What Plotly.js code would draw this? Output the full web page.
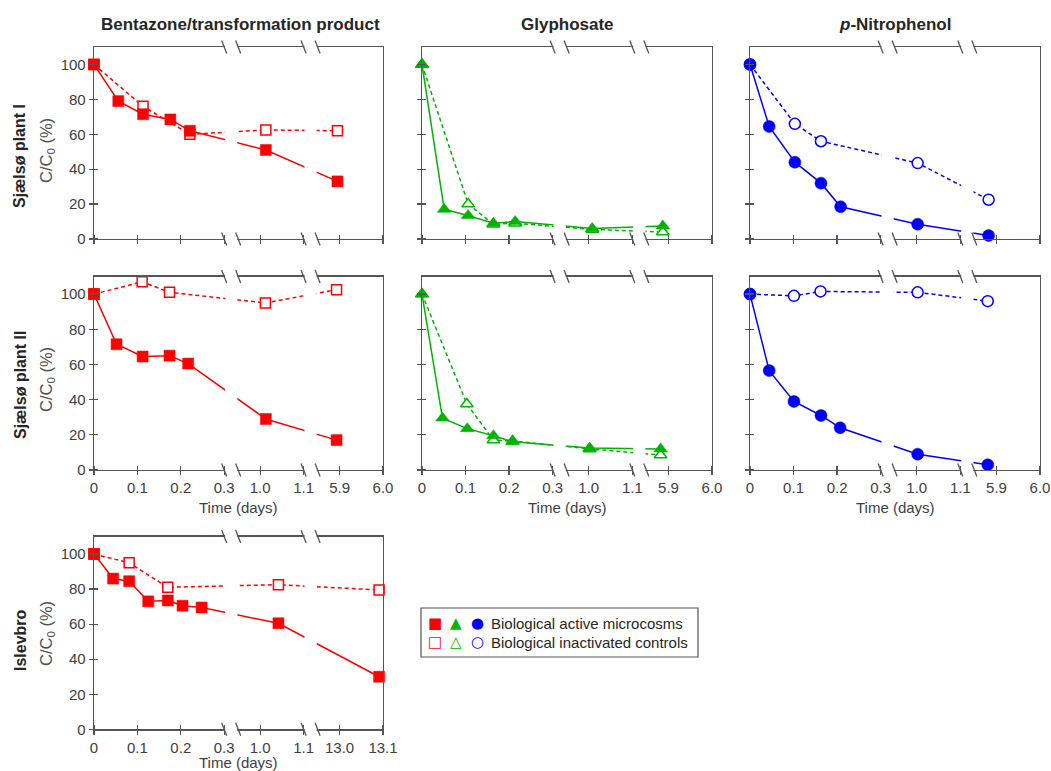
<!DOCTYPE html>
<html><head><meta charset="utf-8">
<script src="https://cdn.plot.ly/plotly-3.0.1.min.js"></script>
<style>html,body{margin:0;padding:0;background:#fff}#chart{width:1051px;height:771px}</style>
</head><body><div id="chart"></div>
<script>
// ---------------- data ----------------
const colTitles = ['Bentazone/transformation product', 'Glyphosate', '<i>p</i>-Nitrophenol'];
const rowLabels = ['Sjælsø plant I', 'Sjælsø plant II', 'Islevbro'];
const yTitle = 'C/C<sub>0</sub> (%)';
const xTitle = 'Time (days)';
const yTickVals = [0, 20, 40, 60, 80, 100];
const xTickTimes6 = [0, 0.1, 0.2, 0.3, 1.0, 1.1, 5.9, 6.0];
const xTickText6 = ['0', '0.1', '0.2', '0.3', '1.0', '1.1', '5.9', '6.0'];
const xTickTimes13 = [0, 0.1, 0.2, 0.3, 1.0, 1.1, 13.0, 13.1];
const xTickText13 = ['0', '0.1', '0.2', '0.3', '1.0', '1.1', '13.0', '13.1'];
const legendLabels = ['Biological active microcosms', 'Biological inactivated controls'];

// Bentazone, Sjælsø plant I
const bentaS1ActiveT = [0, 0.056, 0.113, 0.176, 0.221, 1.013, 5.895];
const bentaS1Active = [100, 79, 71.5, 68.5, 62, 51, 33];
const bentaS1ControlT = [0, 0.113, 0.221, 1.013, 5.895];
const bentaS1Control = [100, 76, 60, 62.5, 62];
// Glyphosate, Sjælsø plant I
const glyS1ActiveT = [0, 0.051, 0.106, 0.164, 0.214, 1.008, 5.887];
const glyS1Active = [100, 17, 13.5, 9, 10, 6, 7.5];
const glyS1ControlT = [0, 0.106, 0.164, 0.214, 1.008, 5.887];
const glyS1Control = [100, 20, 8.5, 9, 5.5, 4];
// p-Nitrophenol, Sjælsø plant I
const pnpS1ActiveT = [0, 0.044, 0.103, 0.163, 0.208, 1.002, 5.882];
const pnpS1Active = [100, 64.5, 44, 32, 18.5, 8.5, 2];
const pnpS1ControlT = [0, 0.103, 0.163, 1.002, 5.882];
const pnpS1Control = [100, 66, 56, 43.5, 22.5];
// Bentazone, Sjælsø plant II
const bentaS2ActiveT = [0, 0.052, 0.112, 0.174, 0.217, 1.013, 5.893];
const bentaS2Active = [100, 71.5, 64.5, 65, 60.5, 29, 17];
const bentaS2ControlT = [0, 0.111, 0.174, 1.012, 5.893];
const bentaS2Control = [100, 107, 101, 95, 102.5];
// Glyphosate, Sjælsø plant II
const glyS2ActiveT = [0, 0.047, 0.104, 0.164, 0.208, 1.002, 5.882];
const glyS2Active = [100, 29.5, 23.5, 19.5, 16, 12.5, 12];
const glyS2ControlT = [0, 0.103, 0.164, 0.208, 1.002, 5.882];
const glyS2Control = [100, 37.5, 17, 16.5, 12, 8.5];
// p-Nitrophenol, Sjælsø plant II
const pnpS2ActiveT = [0, 0.044, 0.101, 0.163, 0.207, 1.002, 5.88];
const pnpS2Active = [100, 56.5, 39, 31, 24, 9, 3];
const pnpS2ControlT = [0, 0.101, 0.162, 1.002, 5.88];
const pnpS2Control = [100, 99, 101.5, 101, 96];
// Bentazone, Islevbro
const bentaIsActiveT = [0, 0.044, 0.081, 0.125, 0.170, 0.204, 0.248, 1.042, 13.091];
const bentaIsActive = [100, 86, 84.5, 73, 73.5, 70.5, 69.5, 60.5, 30];
const bentaIsControlT = [0, 0.081, 0.170, 1.042, 13.091];
const bentaIsControl = [100, 95, 81, 82.5, 79.5];

// ---------------- styles / layout ----------------
const colColors = ['#ff0000', '#00b400', '#0000ff'];
const colSymbols = ['square', 'triangle-up', 'circle'];
const colSizes = [10, 11, 11];

const W = 1051, H = 771;
const COLS = [[94, 383], [422, 712], [750, 1040]];
const ROWS = [[47, 239], [276.5, 470], [536.5, 729.3]];
const GAP = 0.83;
const SEG2 = 3 + GAP;
const SEG3 = SEG2 + 1 + GAP;
const XEND = SEG3 + 1;

// broken-axis scale: 0–0.3 | 1.0–1.1 | last segment
function brokenX(t, lastStart) {
  if (t <= 0.65) return t / 0.1;
  if (t <= (1.1 + lastStart) / 2) return SEG2 + (t - 1.0) / 0.1;
  return SEG3 + (t - lastStart) / 0.1;
}

const panels = [
  {row: 0, col: 0, aT: bentaS1ActiveT, a: bentaS1Active, cT: bentaS1ControlT, c: bentaS1Control, ticks: xTickTimes6, text: xTickText6, last: 5.9},
  {row: 0, col: 1, aT: glyS1ActiveT, a: glyS1Active, cT: glyS1ControlT, c: glyS1Control, ticks: xTickTimes6, text: xTickText6, last: 5.9},
  {row: 0, col: 2, aT: pnpS1ActiveT, a: pnpS1Active, cT: pnpS1ControlT, c: pnpS1Control, ticks: xTickTimes6, text: xTickText6, last: 5.9},
  {row: 1, col: 0, aT: bentaS2ActiveT, a: bentaS2Active, cT: bentaS2ControlT, c: bentaS2Control, ticks: xTickTimes6, text: xTickText6, last: 5.9},
  {row: 1, col: 1, aT: glyS2ActiveT, a: glyS2Active, cT: glyS2ControlT, c: glyS2Control, ticks: xTickTimes6, text: xTickText6, last: 5.9},
  {row: 1, col: 2, aT: pnpS2ActiveT, a: pnpS2Active, cT: pnpS2ControlT, c: pnpS2Control, ticks: xTickTimes6, text: xTickText6, last: 5.9},
  {row: 2, col: 0, aT: bentaIsActiveT, a: bentaIsActive, cT: bentaIsControlT, c: bentaIsControl, ticks: xTickTimes13, text: xTickText13, last: 13.0}
];

const FONT = 'Liberation Sans, Arial, sans-serif';
const AXC = '#555555';
const data = [];
const layout = {
  width: W, height: H, margin: {l: 0, r: 0, t: 0, b: 0},
  paper_bgcolor: '#fff', plot_bgcolor: '#fff', showlegend: false,
  font: {family: FONT, size: 15, color: '#404040'},
  shapes: [], annotations: []
};
const px2x = v => v / W;
const px2y = v => 1 - v / H;

panels.forEach((p, i) => {
  const k = i + 1;
  const xs = k === 1 ? '' : String(k);
  const xName = 'x' + xs, yName = 'y' + xs;
  const [x0, x1] = COLS[p.col];
  const [y0, y1] = ROWS[p.row];
  const tv = p.ticks.map(t => brokenX(t, p.last));
  const showXLabels = p.row > 0;
  layout['xaxis' + xs] = {
    domain: [px2x(x0), px2x(x1)], range: [0, XEND], anchor: yName,
    tickmode: 'array', tickvals: tv, ticktext: p.text, showticklabels: showXLabels,
    ticks: 'outside', ticklen: 4, tickwidth: 1.2, tickcolor: AXC,
    minor: {tickmode: 'array', tickvals: tv, ticks: 'inside', ticklen: 4, tickwidth: 1.2, tickcolor: AXC, showgrid: false},
    showline: true, mirror: true, linecolor: AXC, linewidth: 1.3,
    showgrid: false, zeroline: false, fixedrange: true,
    tickfont: {size: 15, color: '#404040'}
  };
  layout['yaxis' + xs] = {
    domain: [px2y(y1), px2y(y0)], range: [0, 110], anchor: xName,
    tickmode: 'array', tickvals: yTickVals, showticklabels: p.col === 0,
    ticks: 'outside', ticklen: 4, tickwidth: 1.2, tickcolor: AXC,
    minor: {tickmode: 'array', tickvals: yTickVals, ticks: 'inside', ticklen: 4, tickwidth: 1.2, tickcolor: AXC, showgrid: false},
    showline: true, mirror: true, linecolor: AXC, linewidth: 1.3,
    showgrid: false, zeroline: false, fixedrange: true,
    tickfont: {size: 15, color: '#404040'}
  };
  const color = colColors[p.col];
  data.push({
    type: 'scatter', mode: 'lines+markers', xaxis: xName, yaxis: yName,
    x: p.cT.map(t => brokenX(t, p.last)), y: p.c, cliponaxis: false,
    line: {color: color, width: 1.5, dash: '4px,3px'},
    marker: {symbol: colSymbols[p.col], size: colSizes[p.col], color: '#ffffff', line: {color: color, width: 1.5}}
  });
  data.push({
    type: 'scatter', mode: 'lines+markers', xaxis: xName, yaxis: yName,
    x: p.aT.map(t => brokenX(t, p.last)), y: p.a, cliponaxis: false,
    line: {color: color, width: 1.5},
    marker: {symbol: colSymbols[p.col], size: colSizes[p.col] + 1, color: color, line: {color: color, width: 0.5}}
  });

  // axis breaks
  const scale = (x1 - x0) / XEND;
  [3, SEG2 + 1].forEach(u => {
    const bx = x0 + u * scale;
    layout.shapes.push({type: 'rect', layer: 'above', xref: 'paper', yref: 'paper',
      x0: px2x(bx + 0.9), x1: px2x(bx + 13.1), y0: px2y(y1 + 2.5), y1: px2y(y0 - 2.5),
      fillcolor: '#ffffff', line: {width: 0}});
    [bx, bx + 14].forEach(sx => {
      [y0, y1].forEach(sy => {
        layout.shapes.push({type: 'line', layer: 'above', xref: 'paper', yref: 'paper',
          x0: px2x(sx - 2.5), y0: px2y(sy - 6.5), x1: px2x(sx + 2.5), y1: px2y(sy + 6.5),
          line: {color: AXC, width: 1.3}});
      });
    });
  });

  if (showXLabels) {
    layout.annotations.push({xref: 'paper', yref: 'paper', x: px2x((x0 + x1) / 2), y: px2y(p.row === 1 ? 507 : 762),
      text: xTitle, showarrow: false, xanchor: 'center', yanchor: 'middle', font: {size: 15, color: '#404040'}});
  }
});

// column titles
const colCenters = [240, 567, 895];
colTitles.forEach((t, c) => {
  layout.annotations.push({xref: 'paper', yref: 'paper', x: px2x(colCenters[c]), y: px2y(25),
    text: '<b>' + t + '</b>', showarrow: false, xanchor: 'center', yanchor: 'middle',
    font: {size: 17, color: '#262626'}});
});
// row labels and y titles
const rowLabelY = [156, 385, 640];
const yTitleY = [151, 380, 634];
rowLabels.forEach((t, r) => {
  layout.annotations.push({xref: 'paper', yref: 'paper', x: px2x(20), y: px2y(rowLabelY[r]),
    text: '<b>' + t + '</b>', textangle: -90, showarrow: false, xanchor: 'center', yanchor: 'middle',
    font: {size: 16, color: '#262626'}});
  layout.annotations.push({xref: 'paper', yref: 'paper', x: px2x(47), y: px2y(yTitleY[r]),
    text: yTitle, textangle: -90, showarrow: false, xanchor: 'center', yanchor: 'middle',
    font: {size: 16.5, color: '#505050'}});
});

// legend box
layout.shapes.push({type: 'rect', xref: 'paper', yref: 'paper', layer: 'above',
  x0: px2x(421), x1: px2x(698), y0: px2y(657), y1: px2y(608), line: {color: AXC, width: 1.2}, fillcolor: 'rgba(0,0,0,0)'});
const legendGlyphs = [['■', '▲', '●'], ['□', '△', '○']];
const legendRowY = [623, 642];
const glyphX = [435, 456, 477];
legendLabels.forEach((lab, r) => {
  legendGlyphs[r].forEach((g, c) => {
    layout.annotations.push({xref: 'paper', yref: 'paper', x: px2x(glyphX[c]), y: px2y(legendRowY[r]),
      text: g, showarrow: false, xanchor: 'center', yanchor: 'middle',
      font: {family: 'DejaVu Sans', size: 15, color: colColors[c]}});
  });
  layout.annotations.push({xref: 'paper', yref: 'paper', x: px2x(489), y: px2y(legendRowY[r]),
    text: lab, showarrow: false, xanchor: 'left', yanchor: 'middle', font: {size: 15, color: '#262626'}});
});

Plotly.newPlot('chart', data, layout, {displayModeBar: false, staticPlot: true});
</script></body></html>
